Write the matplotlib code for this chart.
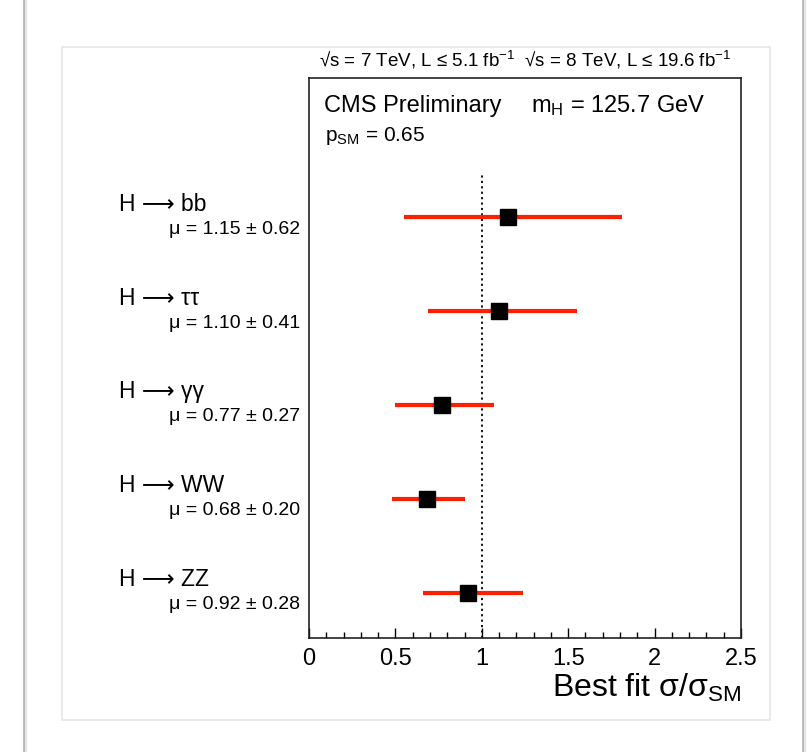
import numpy as np
import matplotlib
matplotlib.use("Agg")
import matplotlib.pyplot as plt
from matplotlib.patches import Rectangle

plt.rcParams['font.family'] = ['Liberation Sans', 'DejaVu Sans']
plt.rcParams['mathtext.fontset'] = 'custom'
plt.rcParams['mathtext.rm'] = 'Liberation Sans'
plt.rcParams['mathtext.it'] = 'Liberation Sans:italic'
plt.rcParams['mathtext.default'] = 'regular'

# channels, top to bottom
channels = ["H ⟶ bb", "H ⟶ ττ", "H ⟶ γγ", "H ⟶ WW", "H ⟶ ZZ"]
mu_text = ["μ = 1.15 ± 0.62", "μ = 1.10 ± 0.41", "μ = 0.77 ± 0.27",
           "μ = 0.68 ± 0.20", "μ = 0.92 ± 0.28"]
mu = np.array([1.15, 1.10, 0.77, 0.68, 0.92])
err_lo = np.array([0.60, 0.41, 0.27, 0.20, 0.26])
err_hi = np.array([0.66, 0.45, 0.30, 0.22, 0.32])
xticks = [0, 0.5, 1, 1.5, 2, 2.5]
xticklabels = ["0", "0.5", "1", "1.5", "2", "2.5"]

W, H = 810, 752
fig = plt.figure(figsize=(W / 100, H / 100), dpi=100)
fig.patch.set_facecolor('white')

# card edges around the picture
for x0 in (24, 803):
    fig.add_artist(plt.Line2D([x0 / W, x0 / W], [0, 1], color='#b8b8b8', lw=2.0))
    fig.add_artist(plt.Line2D([(x0 + 2) / W, (x0 + 2) / W], [0, 1], color='#e4e4e4', lw=1.5))
fig.add_artist(Rectangle((62 / W, 1 - 720 / H), (770 - 62) / W, (720 - 47) / H,
                         transform=fig.transFigure, fill=False, ec='#e6e6e6', lw=1.2))

ax = fig.add_axes([309 / W, 1 - 638 / H, (741 - 309) / W, (638 - 78) / H])
ypos = np.arange(len(channels))[::-1]

# SM line stops below the header text
ax.axvline(1.0, ymax=0.83, color='black', ls=(0, (1.2, 1.8)), lw=1.3, zorder=1)
ax.errorbar(mu, ypos, xerr=[err_lo, err_hi], fmt='s', color='black',
            ecolor='#ff2000', elinewidth=3.0, capsize=0, markersize=11,
            markeredgecolor='black', zorder=3)

ax.set_xlim(0, 2.5)
ax.set_ylim(-0.48, 5.48)
ax.set_yticks([])
ax.set_xticks(xticks)
ax.set_xticklabels(xticklabels, fontsize=17)
ax.set_xticks(np.arange(0, 2.51, 0.1), minor=True)
ax.tick_params(axis='x', which='major', direction='in', length=7, width=1, pad=7)
ax.tick_params(axis='x', which='minor', direction='in', length=4, width=1)
for s in ax.spines.values():
    s.set_linewidth(1.2)
    s.set_color('#222222')

for name, txt, y in zip(channels, mu_text, ypos):
    ax.annotate(name, xy=(0, y), xycoords=('axes fraction', 'data'),
                xytext=(-190, 13), textcoords='offset pixels',
                ha='left', va='center', fontsize=16.5)
    ax.annotate(txt, xy=(0, y), xycoords=('axes fraction', 'data'),
                xytext=(-9, -12), textcoords='offset pixels',
                ha='right', va='center', fontsize=14)

ax.annotate("√s = 7 TeV, L ≤ 5.1 fb$^{-1}$  √s = 8 TeV, L ≤ 19.6 fb$^{-1}$",
            xy=(0.5, 1), xycoords='axes fraction', xytext=(0, 18),
            textcoords='offset pixels', ha='center', va='center', fontsize=13.5)
ax.annotate("CMS Preliminary", xy=(0, 1), xycoords='axes fraction',
            xytext=(15, -28), textcoords='offset pixels', ha='left', va='center', fontsize=17)
ax.annotate("m$_{H}$ = 125.7 GeV", xy=(0, 1), xycoords='axes fraction',
            xytext=(222, -28), textcoords='offset pixels', ha='left', va='center', fontsize=17)
ax.annotate("p$_{SM}$ = 0.65", xy=(0, 1), xycoords='axes fraction',
            xytext=(16, -58), textcoords='offset pixels', ha='left', va='center', fontsize=15)
ax.annotate("Best fit σ/σ$_{SM}$", xy=(1, 0), xycoords='axes fraction',
            xytext=(0, -50), textcoords='offset pixels', ha='right', va='center', fontsize=23)

fig.savefig("out.png", dpi=100)
